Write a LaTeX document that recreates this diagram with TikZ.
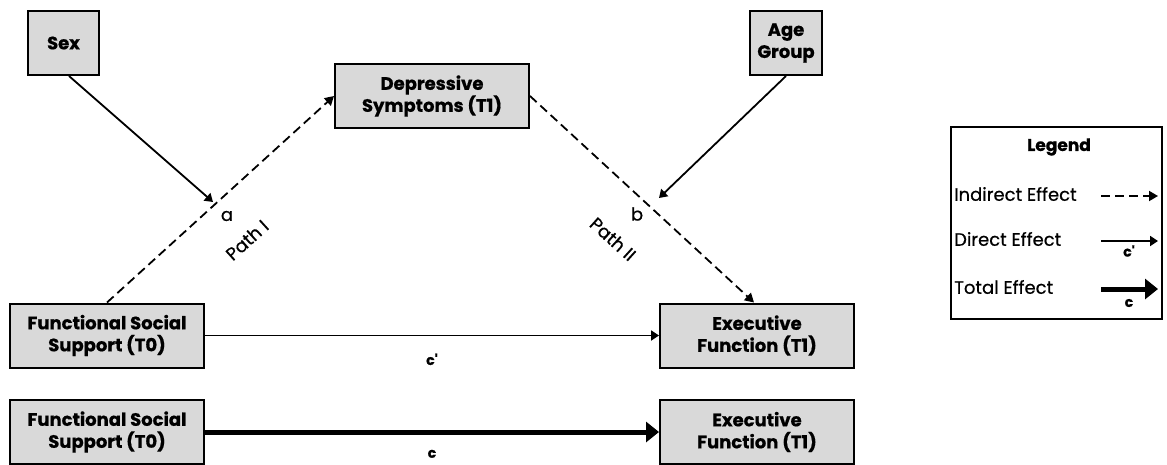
\documentclass[tikz,border=0pt]{standalone}
\usepackage{fontspec}
\setmainfont{Poppins}[BoldFeatures={FakeBold=0.7}]
\newfontfamily\medfont{Poppins}[FakeBold=0.6]
\usetikzlibrary{positioning, arrows.meta}

\begin{document}
\begin{tikzpicture}[x=1pt, y=-1pt,
    var/.style={draw, line width=2pt, fill=gray!30, align=center, inner sep=0pt,
      minimum width=194pt, minimum height=64pt, font=\fontsize{18}{22}\selectfont\bfseries},
    indirect/.style={line width=1.8pt, dash pattern=on 9pt off 5pt, -{Triangle[length=9pt, width=10pt]}},
    direct/.style={line width=1.8pt, -{Triangle[length=8pt, width=10pt]}},
    total/.style={line width=5pt, -{Triangle[length=13pt, width=20pt]}},
    lab/.style={font=\fontsize{18}{20}\medfont},
    tag/.style={font=\fontsize{14}{16}\selectfont\bfseries}]
    \useasboundingbox (0,0) rectangle (1167,464);

    \node[var, minimum width=71pt] (sex) at (63.5,43) {Sex};
    \node[var] (dep) at (432,96) {Depressive\\Symptoms (T1)};
    \node[var, minimum width=72pt] (age) at (786,43) {Age\\Group};
    \node[var] (fss) at (107,335.5) {Functional Social\\Support (T0)};
    \node[var] (ef) at (757,335.5) {Executive\\Function (T1)};
    \node[var] (fsstot) at (107,432) {Functional Social\\Support (T0)};
    \node[var] (eftot) at (757,432) {Executive\\Function (T1)};

    \coordinate (sexend) at (213,202);
    \coordinate (ageend) at (659,198);

    \draw[indirect] (fss.north) -- (dep.west);
    \draw[indirect] (dep.east) -- ([xshift=-3pt]ef.north);
    \draw[direct] ([xshift=5.5pt]sex.south) -- (sexend);
    \draw[direct] (age.south) -- (ageend);
    \draw[direct] (fss.east) -- (ef.west) node[tag, midway, below=14pt] (cp) {c\textquotesingle};
    \draw[total] (fsstot.east) -- (eftot.west) node[tag, midway, below=12pt] (c) {c};

    \node[lab, inner sep=1pt] (a) at (227,216) {a};
    \node[lab, inner sep=0pt, rotate=42] (pathone) at (247,240) {Path I};
    \node[lab, inner sep=1pt] (b) at (637,214) {b};
    \node[lab, inner sep=0pt, rotate=-42] (pathtwo) at (613,239) {Path II};

    \node[draw, line width=2pt, fill=white, minimum width=211pt, minimum height=192pt] (legend) at (1056.5,223) {};
    \node[font=\fontsize{17}{20}\selectfont\bfseries] (legtitle) at (1059,147) {Legend};
    \node[lab, anchor=west, inner sep=0pt] (legind) at (954,194) {Indirect Effect};
    \node[lab, anchor=west, inner sep=0pt] (legdir) at (954,239) {Direct Effect};
    \node[lab, anchor=west, inner sep=0pt] (legtot) at (954,287) {Total Effect};
    \coordinate (indfrom) at (1101,196);
    \coordinate (indto) at (1158,196);
    \coordinate (dirfrom) at (1101,241);
    \coordinate (dirto) at (1158,241);
    \coordinate (totfrom) at (1101,289);
    \coordinate (totto) at (1158,289);
    \draw[indirect] (indfrom) -- (indto);
    \draw[direct] (dirfrom) -- (dirto);
    \draw[total] (totfrom) -- (totto);
    \node[tag] (legcp) at (1129,251) {c\textquotesingle};
    \node[tag] (legc) at (1129,303) {c};
  \end{tikzpicture}
\end{document}
